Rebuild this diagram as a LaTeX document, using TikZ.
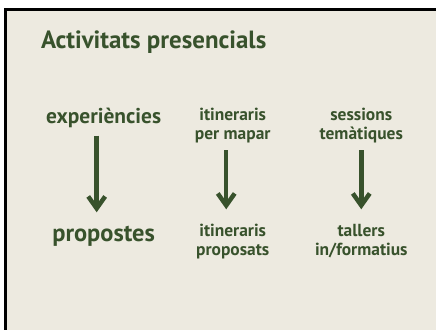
\documentclass[tikz,border=0pt]{standalone}
\usepackage{fontspec}
\setmainfont{PT Sans}
\usetikzlibrary{arrows.meta}
\definecolor{mygreen}{RGB}{56,82,44}
\definecolor{mybeige}{RGB}{237,234,224}
\tikzstyle{arrow} = [color=mygreen, line width=4.5pt, -{Straight Barb[length=12pt, width=17pt]}]
\tikzstyle{bigtext} = [color=mygreen, inner sep=0pt, anchor=base, font=\fontsize{21.5}{24}\selectfont\bfseries]
\tikzstyle{smalltext} = [color=mygreen, inner sep=0pt, anchor=base, align=center, font=\fontsize{17.5}{19.5}\selectfont\bfseries]

\begin{document}
\begin{tikzpicture}[x=1pt, y=-1pt]
            % Frame
            \fill[white] (0,0) rectangle (437,331);
            \fill[mybeige] (6,10) rectangle (437,331);
            \draw[line width=3pt] (6,331) -- (6,10) -- (437,10);
            % Title
            \draw (41,49) node[bigtext, anchor=base west, font=\fontsize{25}{28}\selectfont\bfseries] (title) {Activitats presencials};
            % Step
            \draw (104,124) node[bigtext] (exp) {experiències};
            \draw (104,242.7) node[bigtext, font=\fontsize{24.5}{28}\selectfont\bfseries] (prop) {propostes};
            \draw (233.5,140) node[smalltext] (itin) {itineraris\\per mapar};
            \draw (233.5,256.7) node[smalltext] (itinp) {itineraris\\proposats};
            \draw (362.5,140) node[smalltext] (sess) {sessions\\temàtiques};
            \draw (362.5,256.7) node[smalltext] (tall) {tallers\\in/formatius};
            % arrows
            \draw[arrow] ([xshift=-7pt, yshift=-12pt]exp.base) -- ([xshift=-7pt, yshift=29.7pt]prop.base);
            \draw[arrow] ([xshift=-6.5pt, yshift=-11pt]itin.base) -- ([xshift=-6.5pt, yshift=46.7pt]itinp.base);
            \draw[arrow] ([yshift=-11pt]sess.base) -- ([yshift=46.7pt]tall.base);
        \end{tikzpicture}
\end{document}
